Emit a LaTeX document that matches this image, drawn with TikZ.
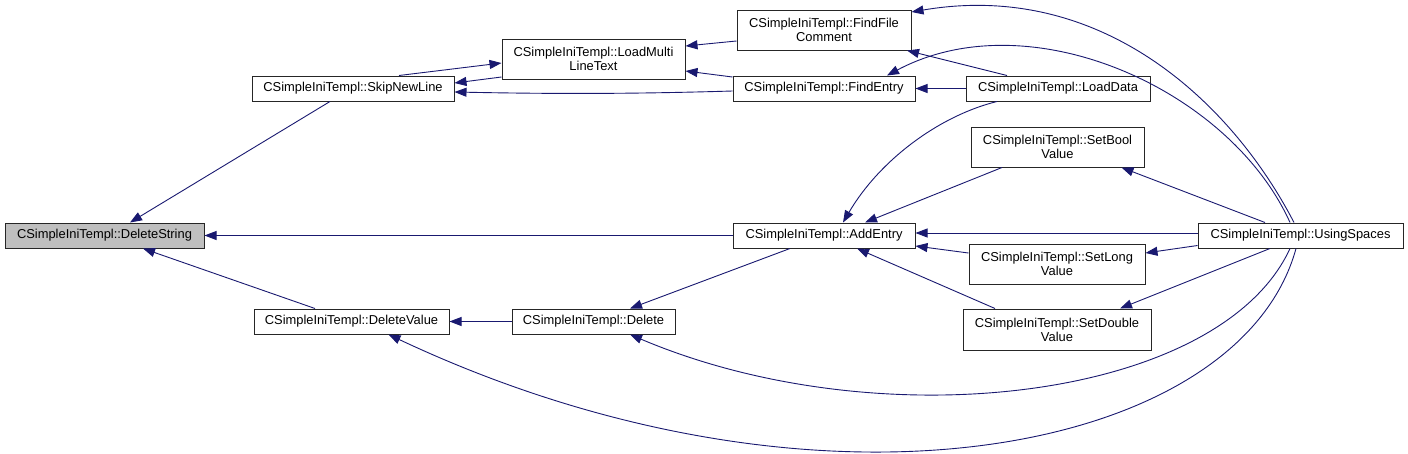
\documentclass[tikz,border=0pt]{standalone}
\usepackage{fontspec}
\setmainfont{Liberation Sans}
\usetikzlibrary{arrows.meta}
\definecolor{edgecol}{HTML}{191970}
\definecolor{boxgray}{HTML}{BFBFBF}
\begin{document}
\begin{tikzpicture}[x=1pt,y=-1pt,
  box/.style={draw=black!85, line width=1pt, fill=white, inner sep=0pt, align=center,
    font=\fontsize{12.9}{14}\selectfont},
  edge/.style={draw=edgecol, line width=0.9pt, -{Triangle[length=12pt,width=9pt]}},
]
\useasboundingbox (0,0) rectangle (1408,453);

\node[box, fill=boxgray, minimum width=199pt, minimum height=25pt] (DS) at (104.5,235.5) {CSimpleIniTempl::DeleteString};
\node[box, minimum width=202pt, minimum height=25pt] (SNL) at (353,88.5) {CSimpleIniTempl::SkipNewLine};
\node[box, minimum width=195pt, minimum height=25pt] (DV) at (351.5,321.5) {CSimpleIniTempl::DeleteValue};
\node[box, minimum width=183pt, minimum height=40pt] (LMLT) at (593.5,59) {CSimpleIniTempl::LoadMulti\\LineText};
\node[box, minimum width=182pt, minimum height=25pt] (AE) at (824,235.5) {CSimpleIniTempl::AddEntry};
\node[box, minimum width=163pt, minimum height=25pt] (DEL) at (593.5,321.5) {CSimpleIniTempl::Delete};
\node[box, minimum width=174pt, minimum height=40pt] (FFC) at (824,30) {CSimpleIniTempl::FindFile\\Comment};
\node[box, minimum width=182pt, minimum height=25pt] (FE) at (824,88.5) {CSimpleIniTempl::FindEntry};
\node[box, minimum width=184pt, minimum height=25pt] (LD) at (1058,88.5) {CSimpleIniTempl::LoadData};
\node[box, minimum width=173pt, minimum height=40pt] (SBV) at (1057.5,147) {CSimpleIniTempl::SetBool\\Value};
\node[box, minimum width=176pt, minimum height=40pt] (SLV) at (1057,264) {CSimpleIniTempl::SetLong\\Value};
\node[box, minimum width=188pt, minimum height=41pt] (SDV) at (1057,329.5) {CSimpleIniTempl::SetDouble\\Value};
\node[box, minimum width=205pt, minimum height=25pt] (US) at (1300.5,235.5) {CSimpleIniTempl::UsingSpaces};

% edges
\draw[edge] ([xshift=-23pt]SNL.south) -- ([xshift=25.5pt]DS.north);
\draw[edge] (AE.west) -- (DS.east);
\draw[edge] ([xshift=-36.5pt]DV.north) -- ([xshift=38.5pt]DS.south);
\draw[edge] ([yshift=-18pt]LMLT.west) -- ([yshift=5.5pt]SNL.east);
\draw[edge] ([xshift=46pt]SNL.north) -- ([yshift=-4pt]LMLT.west);
\draw[edge] ([yshift=-2.5pt]FE.west) .. controls +(-100,3) and +(100,2) .. ([yshift=-3.5pt]SNL.east);
\draw[edge] ([yshift=-11pt]FFC.west) -- ([yshift=13pt]LMLT.east);
\draw[edge] ([yshift=11.5pt]FE.west) -- ([yshift=-12pt]LMLT.east);
\draw[edge] ([xshift=-6.5pt]US.north) .. controls +(-64,-123) and +(188,-32) .. ([yshift=18pt]FFC.east);
\draw[edge] ([xshift=-10.5pt]US.north) .. controls +(-60,-133) and +(143,-76) .. ([xshift=63pt]FE.north);
\draw[edge] (LD.west) -- (FE.east);
\draw[edge] ([xshift=-51pt]LD.north) -- ([xshift=83pt]FFC.south);
\draw[edge] ([xshift=-61pt]LD.south) .. controls +(-57,14) and +(37,-63) .. ([xshift=19pt]AE.north);
\draw[edge] ([xshift=-55.5pt]SBV.south) -- ([xshift=41pt]AE.north);
\draw[edge] ([yshift=2.5pt]US.west) -- ([yshift=2.5pt]AE.east);
\draw[edge] ([yshift=11pt]SLV.west) -- ([yshift=-10.5pt]AE.east);
\draw[edge] ([xshift=-62pt]SDV.north) -- ([xshift=33pt]AE.south);
\draw[edge] ([xshift=-34pt]AE.south) -- ([xshift=36.5pt]DEL.north);
\draw[edge] (DEL.west) -- (DV.east);
\draw[edge] ([xshift=-10.5pt]US.south) .. controls +(-70,152) and +(250,106) .. ([xshift=36.5pt]DEL.south);
\draw[edge] ([xshift=-4.5pt]US.south) .. controls +(-56,205) and +(431.5,203) .. ([xshift=37pt]DV.south);
\draw[edge] ([xshift=-35.5pt]US.north) -- ([xshift=64pt]SBV.south);
\draw[edge] ([yshift=-10pt]US.west) -- ([yshift=11pt]SLV.east);
\draw[edge] ([xshift=-30.5pt]US.south) -- ([xshift=63pt]SDV.north);
\end{tikzpicture}
\end{document}
